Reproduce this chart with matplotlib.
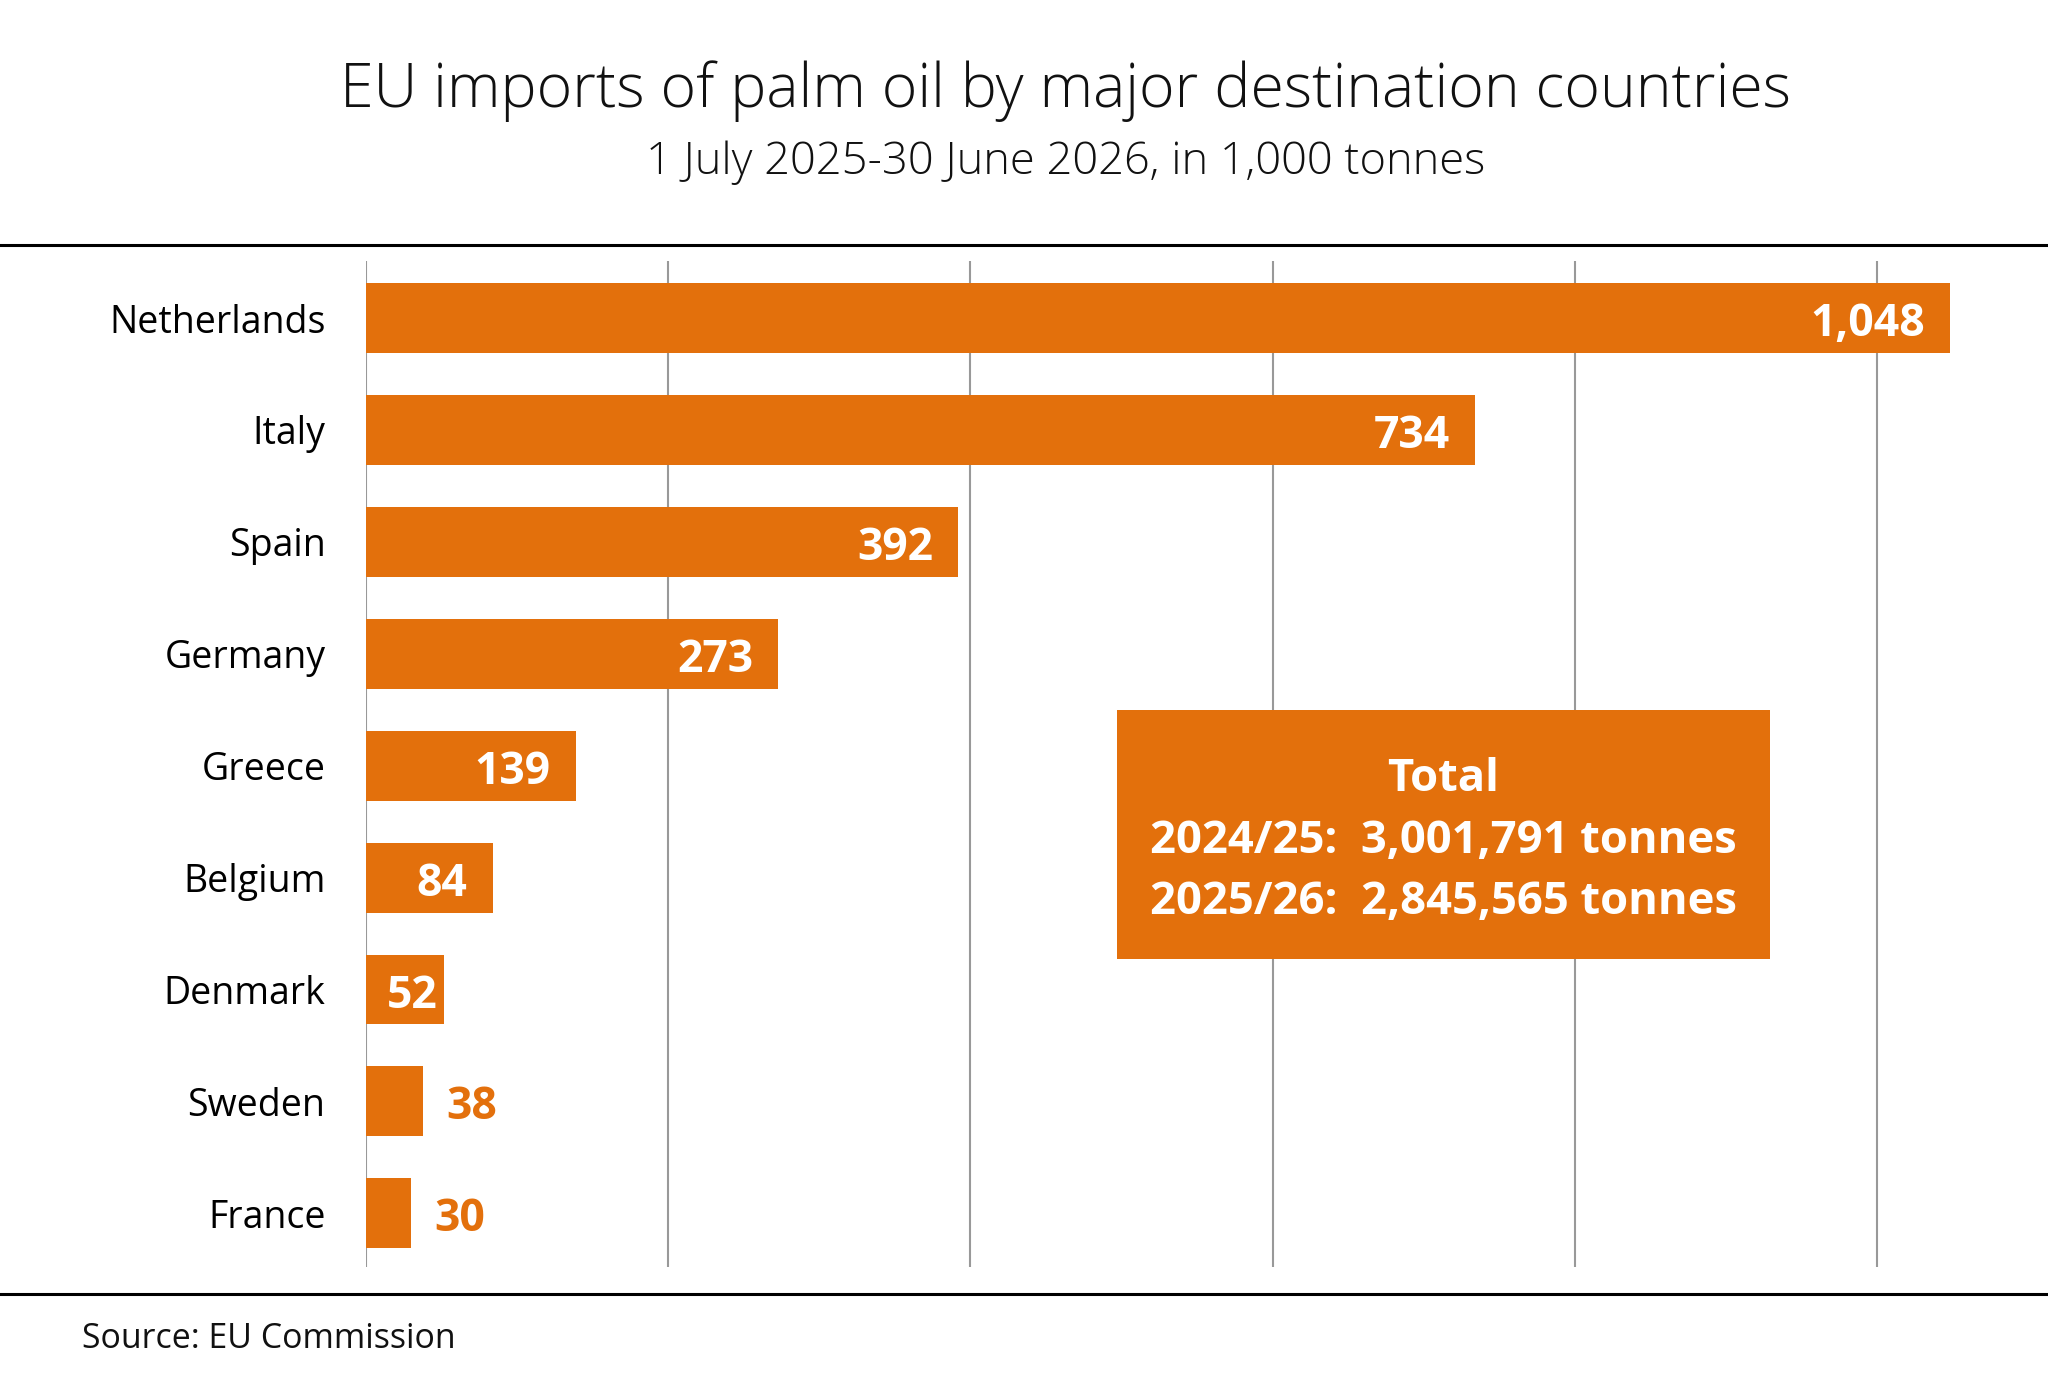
import matplotlib
matplotlib.use("Agg")
import matplotlib.pyplot as plt
from matplotlib.patches import Rectangle
from matplotlib.lines import Line2D

plt.rcParams['font.family'] = ['Open Sans', 'DejaVu Sans']

countries = ["Netherlands", "Italy", "Spain", "Germany", "Greece",
             "Belgium", "Denmark", "Sweden", "France"]
values = [1048, 734, 392, 273, 139, 84, 52, 38, 30]
value_labels = ["1,048", "734", "392", "273", "139", "84", "52", "38", "30"]
grid_ticks = [0, 200, 400, 600, 800, 1000]

title = "EU imports of palm oil by major destination countries"
subtitle = "1 July 2025-30 June 2026, in 1,000 tonnes"
source = "Source: EU Commission"
box_lines = ["Total", "2024/25:  3,001,791 tonnes", "2025/26:  2,845,565 tonnes"]

ORANGE = "#E3700C"
W, H = 2048, 1399
fig = plt.figure(figsize=(W / 100, H / 100), dpi=100)
fig.patch.set_facecolor("white")

ax = fig.add_axes([365.7 / W, 1 - 1267 / H, 1662.7 / W, 1006 / H])
ypos = list(range(len(countries)))
ax.barh(ypos, values, height=0.625, color=ORANGE, zorder=3)
ax.set_xlim(0, 1100)
ax.set_ylim(8.48, -0.51)
ax.set_xticks(grid_ticks)
ax.set_xticklabels([])
ax.tick_params(axis='x', length=0)
ax.grid(axis='x', color="#999999", linewidth=1.5, zorder=0)
ax.set_yticks(ypos)
ax.set_yticklabels(countries, fontsize=27)
ax.tick_params(axis='y', length=0, pad=29)
for s in ax.spines.values():
    s.set_visible(False)

for y, v, lab in zip(ypos, values, value_labels):
    if v >= 50:
        pad = -18 if v >= 80 else -4.5
        ax.annotate(lab, (v, y), xytext=(pad, -13), textcoords="offset points",
                    ha="right", va="baseline", color="white", fontsize=32,
                    fontweight="bold", zorder=4)
    else:
        ax.annotate(lab, (v, y), xytext=(16.5, -13), textcoords="offset points",
                    ha="left", va="baseline", color=ORANGE, fontsize=32,
                    fontweight="bold", zorder=4)

# header / footer rules
fig.add_artist(Line2D([0, 1], [1 - 245 / H] * 2, color="black", linewidth=2.2,
                      transform=fig.transFigure))
fig.add_artist(Line2D([0, 1], [1 - 1294 / H] * 2, color="black", linewidth=2.2,
                      transform=fig.transFigure))

fig.text(1066 / W, 1 - 107 / H, title, ha="center", va="baseline",
         fontsize=43.8, fontweight="light", color="#111111")
fig.text(1066 / W, 1 - 174 / H, subtitle, ha="center", va="baseline",
         fontsize=32.6, fontweight="light", color="#111111")
fig.text(82 / W, 1 - 1348 / H, source, ha="left", va="baseline",
         fontsize=24.4, color="#111111")

# total box
fig.add_artist(Rectangle((1116.5 / W, 1 - 959 / H), 653.5 / W, 249 / H,
                         facecolor=ORANGE, edgecolor="none",
                         transform=fig.transFigure, zorder=5))
for yy, line in zip([791, 853, 914], box_lines):
    fig.text(1443 / W, 1 - yy / H, line, ha="center", va="baseline",
             fontsize=32.7, fontweight="bold", color="white", zorder=6)

fig.savefig("out.png", dpi=100)
